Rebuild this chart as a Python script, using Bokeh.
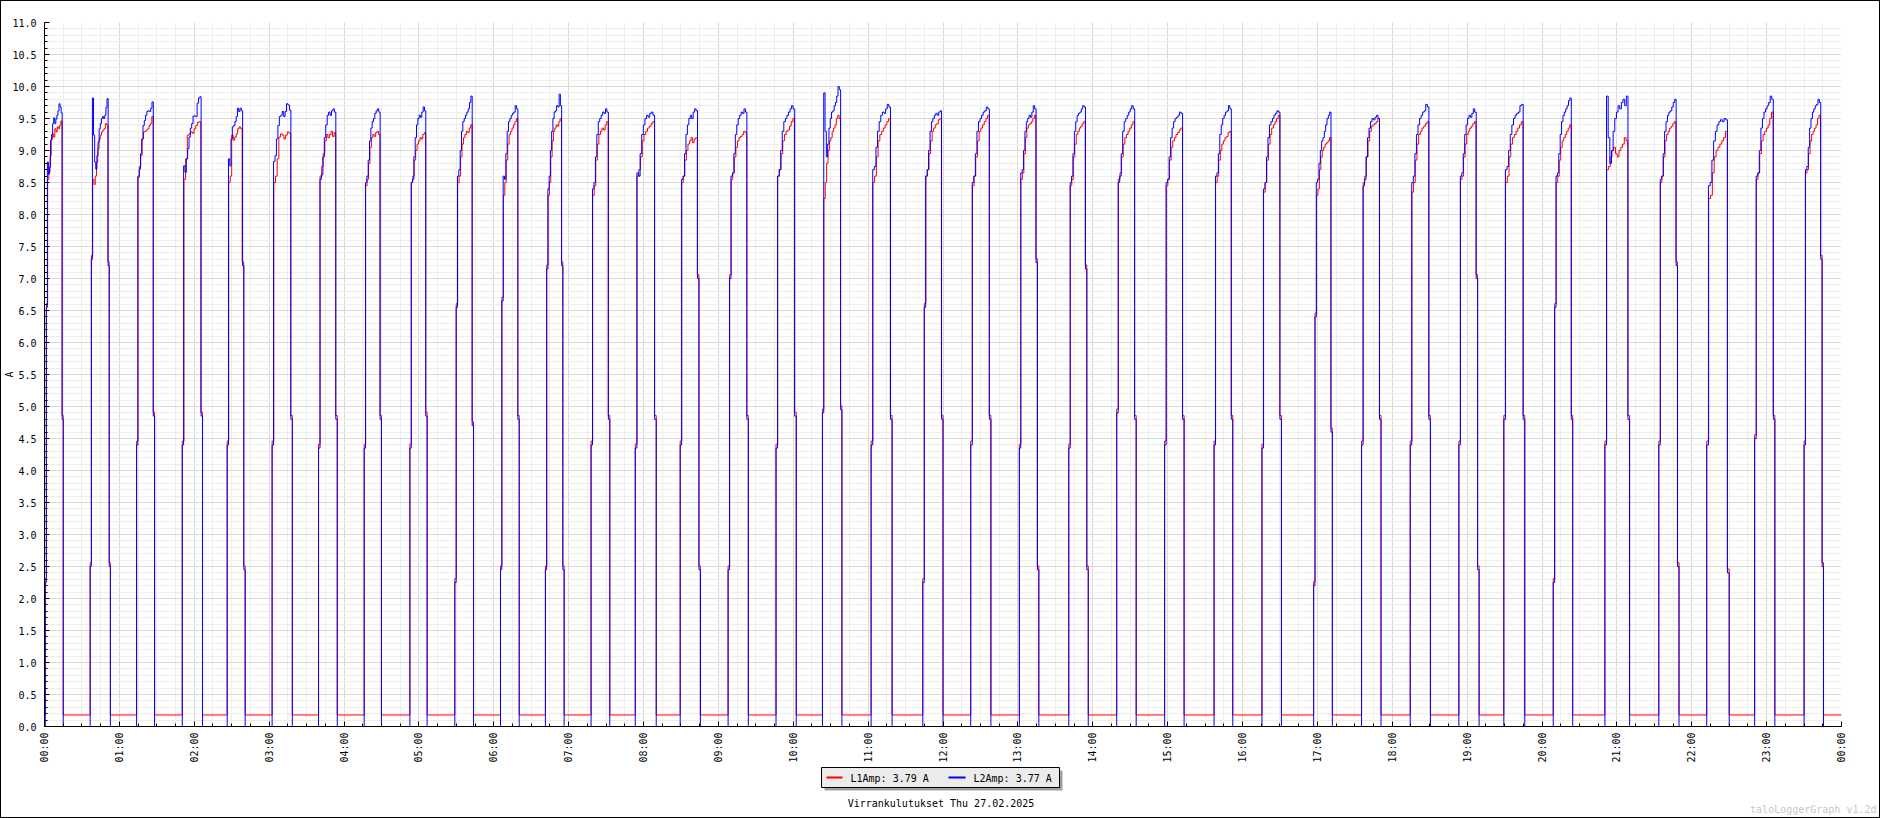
import numpy as np
from math import pi
from bokeh.plotting import figure
from bokeh.layouts import column, row
from bokeh.models import FixedTicker, NumeralTickFormatter, Range1d, Div
from bokeh.core.properties import value
from bokeh.embed import file_html
from bokeh.resources import INLINE

# ---------------- data (hours of day, amperes) ----------------
HOUR_TICKS = list(range(25))
HOUR_LABELS = ["00:00", "01:00", "02:00", "03:00", "04:00", "05:00", "06:00",
               "07:00", "08:00", "09:00", "10:00", "11:00", "12:00", "13:00",
               "14:00", "15:00", "16:00", "17:00", "18:00", "19:00", "20:00",
               "21:00", "22:00", "23:00", "00:00"]

ON_START = [0.01, 0.61, 1.23, 1.84, 2.44, 3.04, 3.66, 4.27, 4.88, 5.48,
            6.09, 6.69, 7.30, 7.89, 8.49, 9.13, 9.77, 10.39, 11.04, 11.73,
            12.37, 13.02, 13.68, 14.32, 14.96, 15.62, 16.26, 16.95, 17.59, 18.24,
            18.89, 19.49, 20.15, 20.84, 21.56, 22.20, 22.84, 23.50]
ON_END = [0.25, 0.88, 1.47, 2.11, 2.68, 3.31, 3.91, 4.50, 5.11, 5.73,
          6.34, 6.94, 7.55, 8.17, 8.76, 9.40, 10.04, 10.65, 11.32, 12.00,
          12.64, 13.28, 13.94, 14.58, 15.22, 15.87, 16.52, 17.20, 17.85, 18.51,
          19.16, 19.77, 20.41, 21.17, 21.83, 22.50, 23.11, 23.76]

L1_OFF = 0.18
L2_OFF = 0.0

EDGE_IN = [[2.25, 6.55], [2.5, 7.3], [4.4], [4.4], [4.4], [4.4], [4.35], [4.35], [4.35], [2.25, 6.55],
           [2.45, 6.65], [2.45, 7.15], [4.4], [4.35], [4.4], [2.45, 7.0], [4.35], [4.9], [4.4], [2.25, 6.55],
           [4.4], [4.35], [4.35], [4.9], [4.4], [4.4], [4.35], [2.2, 6.4], [4.4], [4.4],
           [4.4], [4.8], [2.25, 6.55], [4.4], [4.4], [4.4], [4.5], [4.4]]
EDGE_OUT = [[4.8], [7.2, 2.5], [4.85], [4.85], [7.2, 2.45], [4.8], [4.8], [4.8], [4.85], [4.7],
            [4.8], [7.2, 2.45], [4.8], [4.8], [7.0, 2.45], [4.8], [4.85], [4.95], [4.8], [4.8],
            [4.8], [7.25, 2.45], [7.15, 2.45], [4.8], [4.8], [4.8], [4.8], [4.6], [4.8], [4.8],
            [7.0, 2.45], [4.8], [4.8], [4.8], [7.2, 2.5], [2.4], [4.8], [7.3, 2.5]]

L1_ON = [
    [8.55, 8.66, 8.92, 9.18, 9.26, 9.21, 9.34, 9.29, 9.37, 9.34, 9.39, 9.46],
    [8.55, 8.47, 8.60, 8.82, 9.03, 9.18, 9.24, 9.29, 9.32, 9.34, 9.42, 9.40],
    [8.58, 8.75, 8.92, 9.18, 9.29, 9.30, 9.32, 9.34, 9.39, 9.42, 9.53],
    [8.55, 8.87, 9.24, 9.26, 9.29, 9.27, 9.34, 9.39, 9.44, 9.45],
    [8.50, 8.60, 9.24, 9.16, 9.21, 9.26, 9.34, 9.37, 9.34],
    [8.50, 8.60, 8.87, 9.21, 9.26, 9.24, 9.18, 9.24, 9.29, 9.27],
    [8.60, 8.75, 8.95, 9.15, 9.25, 9.20, 9.25, 9.30, 9.22, 9.28],
    [8.45, 8.55, 8.80, 9.05, 9.20, 9.25, 9.22, 9.28, 9.30, 9.25],
    [8.50, 8.60, 8.85, 9.00, 9.10, 9.15, 9.20, 9.18, 9.25, 9.28],
    [8.50, 8.60, 8.90, 9.10, 9.20, 9.25, 9.30, 9.28, 9.35, 9.40],
    [8.30, 8.50, 8.85, 9.10, 9.25, 9.30, 9.35, 9.40, 9.45, 9.50],
    [8.30, 8.50, 8.90, 9.15, 9.30, 9.35, 9.40, 9.38, 9.45, 9.50],
    [8.30, 8.45, 8.85, 9.10, 9.25, 9.30, 9.35, 9.32, 9.40, 9.45],
    [8.60, 8.70, 8.90, 9.15, 9.25, 9.30, 9.35, 9.38, 9.42, 9.45],
    [8.50, 8.60, 8.85, 9.00, 9.10, 9.15, 9.20, 9.12, 9.18, 9.20],
    [8.55, 8.65, 8.90, 9.05, 9.15, 9.20, 9.22, 9.25, 9.30, 9.28],
    [8.60, 8.70, 8.95, 9.15, 9.25, 9.30, 9.32, 9.38, 9.45, 9.50],
    [8.25, 8.50, 8.80, 9.00, 9.15, 9.20, 9.30, 9.35, 9.40, 9.50, 9.55, 9.50],
    [8.50, 8.60, 8.90, 9.15, 9.25, 9.30, 9.35, 9.40, 9.45, 9.50],
    [8.60, 8.70, 8.95, 9.15, 9.30, 9.35, 9.40, 9.42, 9.48, 9.50],
    [8.45, 8.60, 8.90, 9.15, 9.30, 9.35, 9.40, 9.45, 9.50, 9.55],
    [8.55, 8.65, 8.95, 9.20, 9.35, 9.40, 9.42, 9.45, 9.50, 9.55],
    [8.45, 8.55, 8.90, 9.10, 9.25, 9.30, 9.35, 9.38, 9.42, 9.45],
    [8.55, 8.65, 8.90, 9.10, 9.20, 9.25, 9.30, 9.35, 9.40, 9.45],
    [8.45, 8.55, 8.85, 9.05, 9.15, 9.20, 9.25, 9.28, 9.32, 9.35],
    [8.50, 8.60, 8.85, 9.00, 9.10, 9.15, 9.20, 9.22, 9.28, 9.30],
    [8.35, 8.50, 8.85, 9.10, 9.25, 9.35, 9.40, 9.45, 9.50, 9.55],
    [8.30, 8.40, 8.70, 8.90, 9.00, 9.05, 9.10, 9.12, 9.15, 9.20],
    [8.50, 8.60, 8.90, 9.15, 9.30, 9.38, 9.40, 9.42, 9.45, 9.50],
    [8.35, 8.50, 8.85, 9.10, 9.25, 9.30, 9.35, 9.38, 9.42, 9.45],
    [8.55, 8.60, 8.90, 9.10, 9.25, 9.30, 9.35, 9.38, 9.42, 9.45],
    [8.50, 8.60, 8.90, 9.10, 9.20, 9.25, 9.30, 9.35, 9.40, 9.45],
    [8.50, 8.60, 8.85, 9.05, 9.15, 9.20, 9.25, 9.30, 9.35, 9.40],
    [8.70, 8.75, 8.90, 9.00, 9.05, 8.95, 8.90, 9.00, 9.05, 9.10, 9.20, 9.15],
    [8.50, 8.60, 8.90, 9.15, 9.25, 9.30, 9.35, 9.38, 9.42, 9.45],
    [8.25, 8.30, 8.65, 8.90, 9.00, 9.05, 9.10, 9.15, 9.20, 9.30],
    [8.55, 8.65, 8.95, 9.15, 9.25, 9.30, 9.35, 9.40, 9.50, 9.60],
    [8.65, 8.70, 8.95, 9.15, 9.25, 9.30, 9.35, 9.40, 9.50, 9.55],
]

L2_ON = [
    [8.82, 8.63, 8.74, 9.16, 9.25, 9.42, 9.51, 9.42, 9.49, 9.55, 9.62, 9.73, 9.68, 9.59],
    [9.82, 9.24, 8.82, 8.71, 8.92, 9.13, 9.34, 9.42, 9.50, 9.53, 9.50, 9.55, 9.67, 9.81],
    [8.60, 8.71, 8.95, 9.18, 9.39, 9.47, 9.55, 9.61, 9.62, 9.61, 9.66, 9.76],
    [8.76, 8.66, 8.87, 9.03, 9.21, 9.35, 9.42, 9.54, 9.54, 9.53, 9.74, 9.82, 9.84],
    [8.87, 8.76, 9.18, 9.37, 9.39, 9.45, 9.53, 9.66, 9.61, 9.66, 9.62],
    [8.83, 8.92, 9.18, 9.39, 9.53, 9.55, 9.61, 9.53, 9.61, 9.73, 9.71, 9.63],
    [8.55, 8.62, 8.90, 9.20, 9.40, 9.55, 9.60, 9.55, 9.62, 9.65, 9.60],
    [8.50, 8.60, 8.85, 9.15, 9.35, 9.45, 9.50, 9.58, 9.62, 9.65, 9.60],
    [8.50, 8.55, 8.90, 9.20, 9.40, 9.50, 9.55, 9.52, 9.60, 9.68, 9.62],
    [8.60, 8.70, 9.00, 9.30, 9.45, 9.50, 9.55, 9.60, 9.65, 9.75, 9.85],
    [8.60, 8.55, 8.95, 9.30, 9.45, 9.50, 9.55, 9.58, 9.60, 9.70, 9.65],
    [8.40, 8.60, 9.00, 9.30, 9.50, 9.60, 9.62, 9.70, 9.68, 9.88, 9.70],
    [8.40, 8.50, 8.90, 9.25, 9.45, 9.50, 9.55, 9.60, 9.58, 9.65, 9.60],
    [8.65, 8.60, 8.95, 9.25, 9.40, 9.50, 9.55, 9.52, 9.58, 9.60, 9.55],
    [8.55, 8.60, 8.95, 9.25, 9.40, 9.50, 9.55, 9.50, 9.60, 9.65, 9.62],
    [8.60, 8.65, 8.95, 9.25, 9.40, 9.50, 9.55, 9.60, 9.58, 9.65, 9.60],
    [8.60, 8.70, 9.00, 9.30, 9.45, 9.50, 9.55, 9.60, 9.65, 9.70, 9.65],
    [9.90, 9.30, 8.90, 9.10, 9.35, 9.50, 9.60, 9.62, 9.70, 9.75, 9.85, 10.00, 9.95],
    [8.70, 8.75, 9.05, 9.30, 9.45, 9.55, 9.60, 9.58, 9.65, 9.72, 9.68],
    [8.60, 8.70, 9.00, 9.30, 9.45, 9.50, 9.55, 9.58, 9.55, 9.60, 9.62],
    [8.50, 8.60, 8.95, 9.30, 9.45, 9.50, 9.55, 9.60, 9.62, 9.68, 9.65],
    [8.65, 8.70, 9.00, 9.30, 9.45, 9.50, 9.55, 9.52, 9.60, 9.70, 9.65],
    [8.50, 8.60, 8.95, 9.30, 9.45, 9.55, 9.58, 9.60, 9.65, 9.70, 9.68],
    [8.50, 8.60, 8.95, 9.30, 9.45, 9.50, 9.55, 9.60, 9.65, 9.70, 9.65],
    [8.50, 8.55, 8.90, 9.20, 9.35, 9.45, 9.50, 9.52, 9.55, 9.60, 9.58],
    [8.60, 8.65, 8.95, 9.25, 9.40, 9.50, 9.55, 9.60, 9.62, 9.70, 9.65],
    [8.40, 8.50, 8.90, 9.20, 9.40, 9.45, 9.50, 9.55, 9.58, 9.62, 9.60],
    [8.50, 8.55, 8.80, 9.00, 9.15, 9.20, 9.30, 9.40, 9.50, 9.55, 9.60],
    [8.45, 8.55, 8.90, 9.20, 9.35, 9.45, 9.50, 9.48, 9.52, 9.55, 9.50],
    [8.50, 8.60, 8.95, 9.25, 9.40, 9.50, 9.55, 9.60, 9.62, 9.72, 9.68],
    [8.60, 8.65, 8.95, 9.25, 9.40, 9.50, 9.55, 9.52, 9.58, 9.65, 9.60],
    [8.70, 8.75, 9.00, 9.25, 9.40, 9.50, 9.55, 9.58, 9.60, 9.70, 9.72],
    [8.60, 8.65, 8.95, 9.25, 9.45, 9.55, 9.60, 9.65, 9.70, 9.78, 9.82],
    [9.85, 9.20, 8.80, 9.00, 9.30, 9.50, 9.60, 9.70, 9.65, 9.75, 9.80, 9.70, 9.85],
    [8.55, 8.60, 8.95, 9.30, 9.45, 9.55, 9.60, 9.62, 9.68, 9.75, 9.80],
    [8.45, 8.50, 8.85, 9.15, 9.30, 9.40, 9.45, 9.48, 9.45, 9.50, 9.48],
    [8.60, 8.65, 9.00, 9.35, 9.50, 9.60, 9.65, 9.70, 9.75, 9.85, 9.80],
    [8.70, 8.75, 9.05, 9.35, 9.50, 9.60, 9.65, 9.70, 9.72, 9.80, 9.75],
]

LEGEND_L1 = "L1Amp: 3.79 A"
LEGEND_L2 = "L2Amp: 3.77 A"
TITLE = "Virrankulutukset Thu 27.02.2025"
WATERMARK = "taloLoggerGraph v1.2d"
Y_LABEL = "A"


def build(on_vals, edge_in, edge_out, off, shift):
    xs, ys = [0.0], [off]
    for s, e, v, ei, eo in zip(ON_START, ON_END, on_vals, edge_in, edge_out):
        seq = [x + shift for x in ei] + list(v) + [x + shift for x in eo]
        n = len(seq)
        for k, val in enumerate(seq):
            xs.append(s + (e - s) * k / n)
            ys.append(val)
        xs.append(e)
        ys.append(off)
    xs.append(24.0)
    ys.append(off)
    return np.array(xs), np.array(ys)


x1, y1 = build(L1_ON, EDGE_IN, EDGE_OUT, L1_OFF, 0.06)
x2, y2 = build(L2_ON, EDGE_IN, EDGE_OUT, L2_OFF, 0.0)

FONT = "DejaVu Sans Mono"
W_ALL, H_ALL = 1880, 818
W = W_ALL - 2          # inner width between the 1px frame lines
H_MAIN = 765           # window rows 1 .. 765
H_FOOT = 51            # window rows 766 .. 816

# ---------------- main chart ----------------
p = figure(width=W, height=H_MAIN, x_range=(0, 24), y_range=(0, 11),
           output_backend="svg", toolbar_location=None,
           min_border_left=40, min_border_right=38, min_border_top=21,
           min_border_bottom=40)
p.outline_line_color = None
p.background_fill_color = "white"
p.border_fill_color = "white"

xt = FixedTicker(ticks=HOUR_TICKS, minor_ticks=[i * 0.25 for i in range(97)])
yt = FixedTicker(ticks=[i * 0.5 for i in range(23)], minor_ticks=[i * 0.1 for i in range(111)])

p.xaxis.ticker = xt
p.xaxis.major_label_overrides = {h: lab for h, lab in zip(HOUR_TICKS, HOUR_LABELS)}
p.xaxis.major_label_orientation = pi / 2
p.xaxis.major_label_standoff = 6
p.yaxis.ticker = yt
p.yaxis.formatter = NumeralTickFormatter(format="0.0")
p.yaxis.major_label_standoff = 8
p.yaxis.axis_label = Y_LABEL
p.yaxis.axis_label_standoff = -6
p.yaxis.axis_label_text_font = FONT
p.yaxis.axis_label_text_font_size = "10px"
p.yaxis.axis_label_text_font_style = "normal"
p.yaxis.axis_label_text_color = "black"

for ax in (p.xaxis, p.yaxis):
    ax.axis_line_color = "black"
    ax.axis_line_width = 1
    ax.major_tick_in = 5
    ax.major_tick_out = 0
    ax.minor_tick_in = 3
    ax.minor_tick_out = 0
    ax.major_tick_line_color = "black"
    ax.minor_tick_line_color = "black"
    ax.major_label_text_font = FONT
    ax.major_label_text_font_size = "10px"
    ax.major_label_text_color = "black"

p.xgrid.ticker = xt
p.ygrid.ticker = yt
for g in (p.xgrid, p.ygrid):
    g.grid_line_color = "#d9d9d9"
    g.grid_line_width = 1
    g.minor_grid_line_color = "#eeeeee"
    g.minor_grid_line_width = 1

p.step(x1, y1, mode="after", line_color="#ff0000", line_width=1)
p.step(x2, y2, mode="after", line_color="#0000ff", line_width=1)

# ---------------- footer: legend, title, watermark (window pixel coordinates) ----------------
f = figure(width=W, height=H_FOOT, x_range=Range1d(1, 1 + W),
           y_range=Range1d(1 + H_MAIN + H_FOOT, 1 + H_MAIN),
           output_backend="svg", toolbar_location=None,
           x_axis_location=None, y_axis_location=None,
           min_border_left=0, min_border_right=0, min_border_top=0, min_border_bottom=0)
f.outline_line_color = None
f.xgrid.visible = False
f.ygrid.visible = False
f.background_fill_color = "white"
f.border_fill_color = "white"
for fig in (p, f):
    if "frame_align" in fig.properties():
        fig.frame_align = False

f.quad(left=[824], right=[1062], top=[770], bottom=[790], fill_color="#a0a0a0", line_color=None)
f.quad(left=[821], right=[1059], top=[767], bottom=[787], fill_color="#ebebeb",
       line_color="black", line_width=1)
f.segment(x0=[826], y0=[777], x1=[842], y1=[777], line_color="#ff0000", line_width=2)
f.segment(x0=[948], y0=[777], x1=[965], y1=[777], line_color="#0000ff", line_width=2)
f.text(x=[850, 973], y=[777.5, 777.5], text=[LEGEND_L1, LEGEND_L2],
       text_font=value(FONT), text_font_size="10px", text_color="black",
       text_baseline="middle", text_align="left")
f.text(x=[940.5], y=[802.5], text=[TITLE], text_font=value(FONT), text_font_size="10px",
       text_color="black", text_baseline="middle", text_align="center")
f.text(x=[1876], y=[809], text=[WATERMARK], text_font=value(FONT), text_font_size="10px",
       text_color="#c8c8c8", text_baseline="middle", text_align="right")

# 1px black frame around the whole picture
def bar(w, h):
    return Div(text="", width=w, height=h, margin=0,
               styles={"background-color": "black"})

inner = column(bar(W, 1), p, f, bar(W, 1), spacing=0, margin=0)
layout = row(bar(1, H_ALL), inner, bar(1, H_ALL), spacing=0, margin=0)

open("out.html", "w").write(file_html(layout, INLINE))
